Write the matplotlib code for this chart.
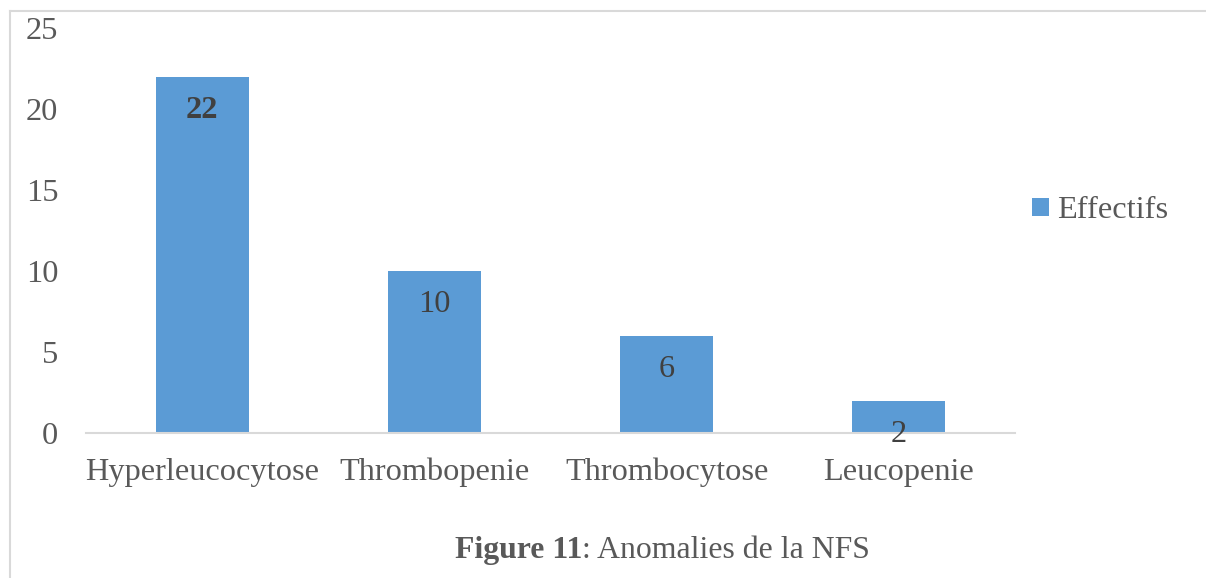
import matplotlib.pyplot as plt
from matplotlib.lines import Line2D

# données
categories = ['Hyperleucocytose', 'Thrombopenie', 'Thrombocytose', 'Leucopenie']
effectifs = [22, 10, 6, 2]
bold_labels = [True, False, False, False]

BAR_COLOR = '#5B9BD5'
TEXT_COLOR = '#595959'
LABEL_COLOR = '#404040'
LINE_COLOR = '#D9D9D9'
FS = 23.3

plt.rcParams['font.family'] = ['Liberation Serif', 'DejaVu Serif']

fig = plt.figure(figsize=(12.06, 5.78), dpi=100)
ax = fig.add_axes([0.0713, 0.2509, 0.7703, 0.7007])

x = range(len(categories))
bars = ax.bar(x, effectifs, width=0.4, color=BAR_COLOR, label='Effectifs', zorder=2)

# étiquettes de valeur dans les barres
for i, (b, v) in enumerate(zip(bars, effectifs)):
    ax.annotate(str(v), (b.get_x() + b.get_width() / 2, v),
                xytext=(0, -34), textcoords='offset pixels',
                ha='center', va='center', fontsize=FS, color=LABEL_COLOR,
                fontweight='bold' if bold_labels[i] else 'normal', zorder=3)

ax.set_xlim(-0.5, 3.5)
ax.set_ylim(0, 25)
ax.set_yticks([0, 5, 10, 15, 20, 25])
ax.set_xticks(list(x))
ax.set_xticklabels(categories)
ax.tick_params(axis='both', length=0, labelsize=FS, colors=TEXT_COLOR)
ax.tick_params(axis='y', pad=20)
ax.tick_params(axis='x', pad=18)

for s in ['top', 'right', 'left']:
    ax.spines[s].set_visible(False)
ax.spines['bottom'].set_color(LINE_COLOR)
ax.spines['bottom'].set_linewidth(1.5)

leg = ax.legend(loc='center left', bbox_to_anchor=(0.856, 0.635),
                bbox_transform=fig.transFigure, frameon=False,
                fontsize=FS, handlelength=0.5, handleheight=0.5,
                handletextpad=0.25, borderpad=0, borderaxespad=0)
for t in leg.get_texts():
    t.set_color(TEXT_COLOR)

# légende de la figure
CAP_FS = 22.9
t1 = fig.text(0.377, 0.034, 'Figure 11', fontsize=CAP_FS, fontweight='bold',
              color=TEXT_COLOR, ha='left', va='baseline')
ax.annotate(': Anomalies de la NFS', xy=(1, 0), xycoords=t1,
            fontsize=CAP_FS, color=TEXT_COLOR, ha='left', va='bottom',
            annotation_clip=False)

# cadre
fig.add_artist(Line2D([0.0083, 1.0], [0.9818, 0.9818], color=LINE_COLOR, lw=1.5))
fig.add_artist(Line2D([0.0083, 0.0083], [0.0, 0.9818], color=LINE_COLOR, lw=1.5))

fig.savefig('out.png', dpi=100)
